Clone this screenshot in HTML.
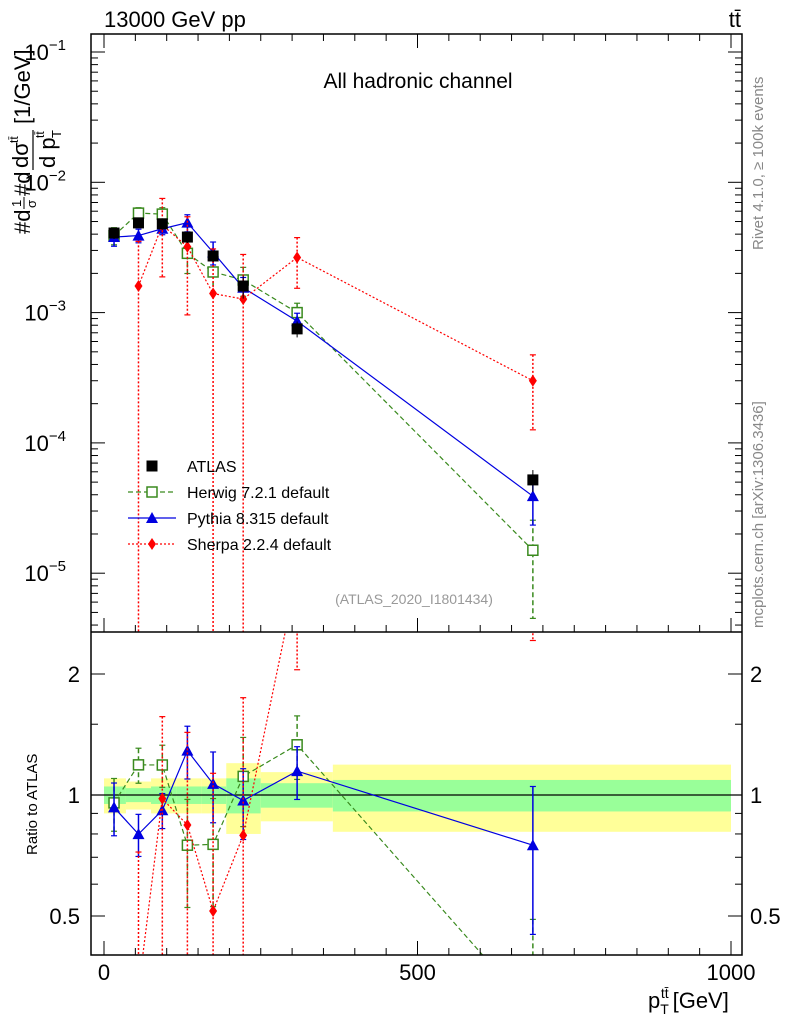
<!DOCTYPE html>
<html><head><meta charset="utf-8"><style>
html,body{margin:0;background:#fff;overflow:hidden;width:786px;height:1024px;}
svg{display:block;font-family:"Liberation Sans",sans-serif;}
</style></head><body>
<svg id="c" width="786" height="1024" xmlns="http://www.w3.org/2000/svg"></svg>
<script>
const xCenters=[16,55,93,133,174,222,308,684];
const binEdges=[0,35,75,115,155,195,250,365,1000];
const atlasVals=[4.08e-3,4.88e-3,4.8e-3,3.8e-3,2.72e-3,1.6e-3,7.5e-4,5.2e-5];
const atlasStat=[0.05,0.04,0.05,0.05,0.05,0.10,0.07,0.09];
const atlasTot=[0.10,0.08,0.10,0.10,0.10,0.20,0.14,0.19];
const herwigVals=[3.9e-3,5.8e-3,5.7e-3,2.85e-3,2.05e-3,1.78e-3,1.0e-3,1.5e-5];
const herwigErr=[0.15,0.1,0.12,0.3,0.3,0.25,0.18,0.7];
const pythiaVals=[3.8e-3,3.9e-3,4.4e-3,4.9e-3,2.9e-3,1.55e-3,8.6e-4,3.9e-5];
const pythiaErr=[0.15,0.12,0.1,0.15,0.2,0.2,0.15,0.4];
const sherpaVals=[null,1.6e-3,4.7e-3,3.2e-3,1.4e-3,1.27e-3,2.65e-3,3.0e-4];
const sherpaErr=[0,1.2,0.6,0.7,1.2,1.2,0.42,0.58];
const yTicks=[-1,-2,-3,-4,-5];
const rTicks=[0.5,1,2];

const S=document.getElementById('c');const NS='http://www.w3.org/2000/svg';
function el(t,a,p){const e=document.createElementNS(NS,t);for(const k in a)e.setAttribute(k,a[k]);(p||S).appendChild(e);return e;}
const L=91,R=742,T=34,MB=632,B=955;
const X=v=>104+v*0.627;
const Y=v=>52+(-1-Math.log10(v))*130.3;
const RY=r=>795-Math.log(r)/Math.LN2*121;
const defs=el('defs',{});
const c1=el('clipPath',{id:'cm'},defs);el('rect',{x:L,y:T,width:R-L,height:MB-T},c1);
const c2=el('clipPath',{id:'cr'},defs);el('rect',{x:L,y:MB,width:R-L,height:B-MB},c2);
const gm=el('g',{'clip-path':'url(#cm)'});
const gr=el('g',{'clip-path':'url(#cr)'});
for(let i=0;i<xCenters.length;i++){
 const x0=X(binEdges[i]),x1=X(binEdges[i+1]);
 const y=el('rect',{x:x0,y:RY(1+atlasTot[i]),width:x1-x0,height:RY(1-atlasTot[i])-RY(1+atlasTot[i]),fill:'#ffff99'},gr);
 
 const g=el('rect',{x:x0,y:RY(1+atlasStat[i]),width:x1-x0,height:RY(1-atlasStat[i])-RY(1+atlasStat[i]),fill:'#99ff99'},gr);
 
}
el('line',{x1:L,x2:R,y1:RY(1),y2:RY(1),stroke:'#000','stroke-width':1.2},gr);
function series(vals,errs,col,dash,marker,name,ratio){
 const g=el('g',{},ratio?gr:gm);
 
 const fy=ratio?((v,i)=>RY(v/atlasVals[i])):((v)=>Y(v));
 const lim=ratio?B:MB;
 const pts=[];
 vals.forEach((v,i)=>{if(v!=null)pts.push([X(xCenters[i]),fy(v,i)]);});
 el('polyline',{points:pts.map(p=>p.join(',')).join(' '),fill:'none',stroke:col,'stroke-width':1.2,'stroke-dasharray':dash},g);
 vals.forEach((v,i)=>{if(v==null)return;const x=X(xCenters[i]),y=fy(v,i);
  const hi=v*(1+errs[i]),lo=v*(1-errs[i]);
  const yh=Math.max(fy(hi,i),T-5),yl=lo>0?Math.min(fy(lo,i),lim+5):lim+5;
  el('line',{x1:x,x2:x,y1:yh,y2:yl,stroke:col,'stroke-width':1.5,'stroke-dasharray':dash},g);
  el('line',{x1:x-3,x2:x+3,y1:yh,y2:yh,stroke:col,'stroke-width':1.2},g);
  if(lo>0)el('line',{x1:x-3,x2:x+3,y1:yl,y2:yl,stroke:col,'stroke-width':1.2},g);
  drawMarker(g,marker,x,y,col);
 });
}
function drawMarker(g,m,x,y,col){
 let e;
 if(m==='sq')e=el('rect',{x:x-5.5,y:y-5.5,width:11,height:11,fill:'#000'},g);
 if(m==='osq')e=el('rect',{x:x-5,y:y-5,width:10,height:10,fill:'#fff',stroke:col,'stroke-width':1.5},g);
 if(m==='tri')e=el('polygon',{points:`${x},${y-6} ${x-6},${y+5} ${x+6},${y+5}`,fill:col},g);
 if(m==='dia')e=el('polygon',{points:`${x},${y-6} ${x-4},${y} ${x},${y+6} ${x+4},${y}`,fill:col},g);
 
}
series(herwigVals,herwigErr,'#3a8a1e','5,3','osq','herwig',false);
series(pythiaVals,pythiaErr,'#0000e0','','tri','pythia',false);
series(sherpaVals,sherpaErr,'#f00','2,2','dia','sherpa',false);
{const g=el('g',{},gm);
 atlasVals.forEach((v,i)=>{const x=X(xCenters[i]);el('line',{x1:x,x2:x,y1:Y(v*(1+atlasTot[i])),y2:Y(v*(1-atlasTot[i])),stroke:'#000'},g);drawMarker(g,'sq',x,Y(v));});}
series(herwigVals,herwigErr,'#3a8a1e','5,3','osq','herwig',true);
series(pythiaVals,pythiaErr,'#0000e0','','tri','pythia',true);
series(sherpaVals,sherpaErr,'#f00','2,2','dia','sherpa',true);
el('rect',{x:L,y:T,width:R-L,height:B-T,fill:'none',stroke:'#000','stroke-width':1.5});
el('line',{x1:L,x2:R,y1:MB,y2:MB,stroke:'#000','stroke-width':1.5});
function txt(s,a,name,p){const t=el('text',a,p);t.textContent=s;return t;}
for(let d=-1;d>=-6;d--){for(let m=1;m<10;m++){const v=m*Math.pow(10,d);const y=Y(v);if(y<T||y>MB)continue;const len=m===1?14:7;
 el('line',{x1:L,x2:L+len,y1:y,y2:y,stroke:'#000'});el('line',{x1:R,x2:R-len,y1:y,y2:y,stroke:'#000'});}}
yTicks.forEach(d=>{const t=txt('10',{x:66,y:Y(Math.pow(10,d))+8,'font-size':22,'text-anchor':'end'},'y-tick-label');
 const s=el('tspan',{dy:-10,'font-size':15},t);s.textContent='−'+(-d);});
[0.5,0.6,0.7,0.8,0.9,1,1.5,2].forEach(r=>{const y=RY(r);const len=(r===0.5||r===1||r===2)?14:7;
 el('line',{x1:L,x2:L+len,y1:y,y2:y,stroke:'#000'});el('line',{x1:R,x2:R-len,y1:y,y2:y,stroke:'#000'});});
rTicks.forEach(r=>{txt(String(r),{x:80,y:RY(r)+8,'font-size':22,'text-anchor':'end'},'ratio-tick-label-left');
 txt(String(r),{x:750,y:RY(r)+8,'font-size':22},'ratio-tick-label-right');});
for(let v=0;v<=1000;v+=50){const x=X(v);const len=v%500===0?14:7;
 el('line',{x1:x,x2:x,y1:T,y2:T+len,stroke:'#000'});
 el('line',{x1:x,x2:x,y1:MB,y2:MB-len,stroke:'#000'});el('line',{x1:x,x2:x,y1:B,y2:B-len,stroke:'#000'});}
[0,500,1000].forEach(v=>txt(String(v),{x:X(v),y:980,'font-size':22,'text-anchor':'middle'},'x-tick-label'));
txt('13000 GeV pp',{x:104,y:27,'font-size':22},'energy-label');
txt('tt̄',{x:741,y:27,'font-size':22,'text-anchor':'end'},'process-label');
txt('All hadronic channel',{x:418,y:88,'font-size':21,'text-anchor':'middle'},'channel-label');
txt('(ATLAS_2020_I1801434)',{x:414,y:604,'font-size':14,fill:'#999','text-anchor':'middle'},'analysis-id');
txt('Rivet 4.1.0, ≥ 100k events',{x:0,y:0,'font-size':15,fill:'#888',transform:'translate(763,250) rotate(-90)'},'rivet-label');
txt('mcplots.cern.ch [arXiv:1306.3436]',{x:0,y:0,'font-size':15,fill:'#888',transform:'translate(763,628) rotate(-90)'},'mcplots-label');
// y axis title (rotated)
const yt=el('g',{transform:'translate(30,234) rotate(-90)'});
txt('#d',{x:0,y:0,'font-size':22},'y-title-part',yt);
txt('1',{x:27,y:-9,'font-size':13},'y-title-part',yt);
el('line',{x1:25,x2:37,y1:-6,y2:-6,stroke:'#000','stroke-width':1},yt);
txt('σ',{x:26,y:6,'font-size':13},'y-title-part',yt);
txt('#d',{x:38,y:0,'font-size':22},'y-title-part',yt);
txt('dσ',{x:66,y:-2,'font-size':22},'y-title-part',yt);
txt('tt̄',{x:91,y:-12,'font-size':12},'y-title-part',yt);
el('line',{x1:64,x2:104,y1:3,y2:3,stroke:'#000','stroke-width':1.2},yt);
txt('d p',{x:66,y:25,'font-size':22},'y-title-part',yt);
txt('T',{x:96,y:31,'font-size':13},'y-title-part',yt);
txt('tt̄',{x:96,y:14,'font-size':12},'y-title-part',yt);
txt('[1/GeV]',{x:110,y:0,'font-size':22},'y-title-part',yt);
txt('Ratio to ATLAS',{x:0,y:0,'font-size':15,transform:'translate(37,855) rotate(-90)'},'ratio-axis-title');
const xt=txt('p',{x:648,y:1008,'font-size':22},'x-axis-title');
const s1=el('tspan',{dy:6,'font-size':14},xt);s1.textContent='T';
const s2=el('tspan',{dx:-8,dy:-16,'font-size':14},xt);s2.textContent='tt̄';
const s3=el('tspan',{dx:4,dy:10,'font-size':22},xt);s3.textContent='[GeV]';
const lg=el('g',{});
const items=[['ATLAS','#000','','sq'],['Herwig 7.2.1 default','#3a8a1e','5,3','osq'],['Pythia 8.315 default','#0000e0','','tri'],['Sherpa 2.2.4 default','#f00','2,2','dia']];
items.forEach((it,i)=>{const y=466+i*26;const g=el('g',{},lg);
 if(i>0)el('line',{x1:128,x2:176,y1:y,y2:y,stroke:it[1],'stroke-width':1.2,'stroke-dasharray':it[2]},g);
 drawMarker(g,it[3],152,y,it[1]);
 const t=el('text',{x:187,y:y+6,'font-size':16},g);t.textContent=it[0];});
</script>
</body></html>
